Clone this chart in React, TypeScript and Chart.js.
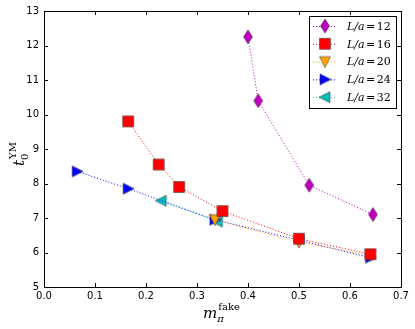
import React, { useEffect, useRef } from "react";
import { Chart, registerables } from "chart.js";
Chart.register(...registerables);

const x12 = [0.40, 0.42, 0.52, 0.645];
const y12 = [12.25, 10.4, 7.95, 7.1];
const x16 = [0.165, 0.225, 0.265, 0.35, 0.50, 0.64];
const y16 = [9.8, 8.55, 7.9, 7.2, 6.4, 5.95];
const x20 = [0.335, 0.50, 0.64];
const y20 = [6.95, 6.3, 5.92];
const x24 = [0.065, 0.165, 0.335, 0.64];
const y24 = [8.35, 7.85, 6.95, 5.85];
const x32 = [0.23, 0.34];
const y32 = [7.5, 6.9];
const labels = ["12", "16", "20", "24", "32"];
const colors = ["#bf00bf", "#ff0000", "#ffa500", "#0000ff", "#00bfbf"];
const shapes = ["diamond", "square", "tdown", "tright", "tleft"];

function makeMarker(shape: string, color: string): HTMLCanvasElement {
  const c = document.createElement("canvas");
  const w = 14, h = 16;
  c.width = w; c.height = h;
  const g = c.getContext("2d")!;
  const cx = w / 2, cy = h / 2;
  g.beginPath();
  if (shape === "diamond") {
    g.moveTo(cx, cy - 7); g.lineTo(cx + 4.5, cy); g.lineTo(cx, cy + 7); g.lineTo(cx - 4.5, cy);
  } else if (shape === "square") {
    g.rect(cx - 5.5, cy - 5.5, 11, 11);
  } else if (shape === "tdown") {
    g.moveTo(cx - 5.5, cy - 5); g.lineTo(cx + 5.5, cy - 5); g.lineTo(cx, cy + 6);
  } else if (shape === "tright") {
    g.moveTo(cx - 5, cy - 5.5); g.lineTo(cx + 6, cy); g.lineTo(cx - 5, cy + 5.5);
  } else {
    g.moveTo(cx + 5, cy - 5.5); g.lineTo(cx - 6, cy); g.lineTo(cx + 5, cy + 5.5);
  }
  g.closePath();
  g.fillStyle = color;
  g.fill();
  g.lineWidth = 0.8;
  g.strokeStyle = "rgba(60,60,60,0.7)";
  g.stroke();
  return c;
}

export default function App() {
  const ref = useRef<HTMLCanvasElement>(null);
  useEffect(() => {
    document.body.style.margin = "0";
    const xsAll = [x12, x16, x20, x24, x32];
    const ysAll = [y12, y16, y20, y24, y32];
    const markers = shapes.map((s, i) => makeMarker(s, colors[i]));
    const datasets = xsAll.map((xs, i) => ({
      label: "L/a=" + labels[i],
      data: xs.map((x, j) => ({ x, y: ysAll[i][j] })),
      borderColor: colors[i],
      borderWidth: 1,
      borderDash: [1, 2],
      pointStyle: markers[i] as any,
      pointRadius: 6,
      fill: false,
    }));

    const frame = {
      id: "frame",
      afterDatasetsDraw(chart: any) {
        const { ctx, chartArea: a, scales } = chart;
        ctx.save();
        ctx.strokeStyle = "#000";
        ctx.lineWidth = 1;
        ctx.strokeRect(Math.round(a.left) + 0.5, Math.round(a.top) + 0.5, Math.round(a.right - a.left), Math.round(a.bottom - a.top));
        ctx.beginPath();
        for (let v = 0; v <= 0.7001; v += 0.1) {
          const px = Math.round(scales.x.getPixelForValue(v)) + 0.5;
          ctx.moveTo(px, a.bottom); ctx.lineTo(px, a.bottom - 4);
          ctx.moveTo(px, a.top); ctx.lineTo(px, a.top + 4);
        }
        for (let v = 5; v <= 13; v++) {
          const py = Math.round(scales.y.getPixelForValue(v)) + 0.5;
          ctx.moveTo(a.left, py); ctx.lineTo(a.left + 4, py);
          ctx.moveTo(a.right, py); ctx.lineTo(a.right - 4, py);
        }
        ctx.stroke();

        // legend
        const lx = 309, ly = 16, lw = 87, lh = 92;
        ctx.fillStyle = "#fff";
        ctx.fillRect(lx, ly, lw, lh);
        ctx.strokeRect(lx + 0.5, ly + 0.5, lw, lh);
        for (let i = 0; i < 5; i++) {
          const yy = ly + 10 + i * 17.8;
          ctx.save();
          ctx.strokeStyle = colors[i];
          ctx.setLineDash([1, 2]);
          ctx.beginPath();
          ctx.moveTo(lx + 4, yy + 0.5); ctx.lineTo(lx + 28, yy + 0.5);
          ctx.stroke();
          ctx.restore();
          const m = markers[i];
          ctx.drawImage(m, lx + 16 - m.width / 2, yy - m.height / 2);
          ctx.fillStyle = "#000";
          ctx.textBaseline = "middle";
          ctx.textAlign = "left";
          let tx = lx + 38;
          ctx.font = "italic 11px 'DejaVu Serif'";
          ctx.fillText("L/a", tx, yy + 1);
          tx += ctx.measureText("L/a").width + 1.5;
          ctx.font = "11px 'DejaVu Serif'";
          ctx.fillText("=", tx, yy + 1);
          tx += ctx.measureText("=").width + 1.5;
          ctx.fillText(labels[i], tx, yy + 1);
        }

        // axis titles
        ctx.fillStyle = "#000";
        ctx.textBaseline = "alphabetic";
        ctx.textAlign = "left";
        let bx = 203, by = 318;
        ctx.font = "italic 15px 'DejaVu Serif'";
        ctx.fillText("m", bx, by);
        const mw = ctx.measureText("m").width;
        ctx.font = "italic 10px 'DejaVu Serif'";
        ctx.fillText("π", bx + mw, by + 4);
        ctx.font = "10px 'DejaVu Serif'";
        ctx.fillText("fake", bx + mw + 1, by - 8);
        ctx.save();
        ctx.translate(24, 166);
        ctx.rotate(-Math.PI / 2);
        ctx.font = "italic 15px 'DejaVu Serif'";
        ctx.fillText("t", 0, 0);
        const tw = ctx.measureText("t").width;
        ctx.font = "10px 'DejaVu Serif'";
        ctx.fillText("0", tw, 4);
        ctx.fillText("YM", tw + 1, -8);
        ctx.restore();
        ctx.restore();
      },
    };

    const chart = new Chart(ref.current!, {
      type: "line",
      data: { datasets: datasets as any },
      options: {
        animation: false,
        responsive: false,
        layout: { padding: { top: 10, right: 14, left: 0, bottom: 0 } },
        plugins: { legend: { display: false }, tooltip: { enabled: false } },
        scales: {
          x: {
            type: "linear",
            min: 0,
            max: 0.7,
            grid: { display: false, drawTicks: false },
            border: { display: false },
            ticks: {
              stepSize: 0.1,
              padding: 3,
              color: "#000",
              font: { family: "'DejaVu Sans'", size: 10 },
              callback: (v: any) => Number(v).toFixed(1),
            },
            afterFit: (s: any) => { s.height = 42; },
          },
          y: {
            type: "linear",
            min: 5,
            max: 13,
            grid: { display: false, drawTicks: false },
            border: { display: false },
            ticks: {
              stepSize: 1,
              padding: 5,
              color: "#000",
              font: { family: "'DejaVu Sans'", size: 10 },
            },
            afterFit: (s: any) => { s.width = 44; },
          },
        },
      },
      plugins: [frame],
    });
    return () => chart.destroy();
  }, []);
  return <canvas ref={ref} width={415} height={329} style={{ display: "block" }} />;
}
